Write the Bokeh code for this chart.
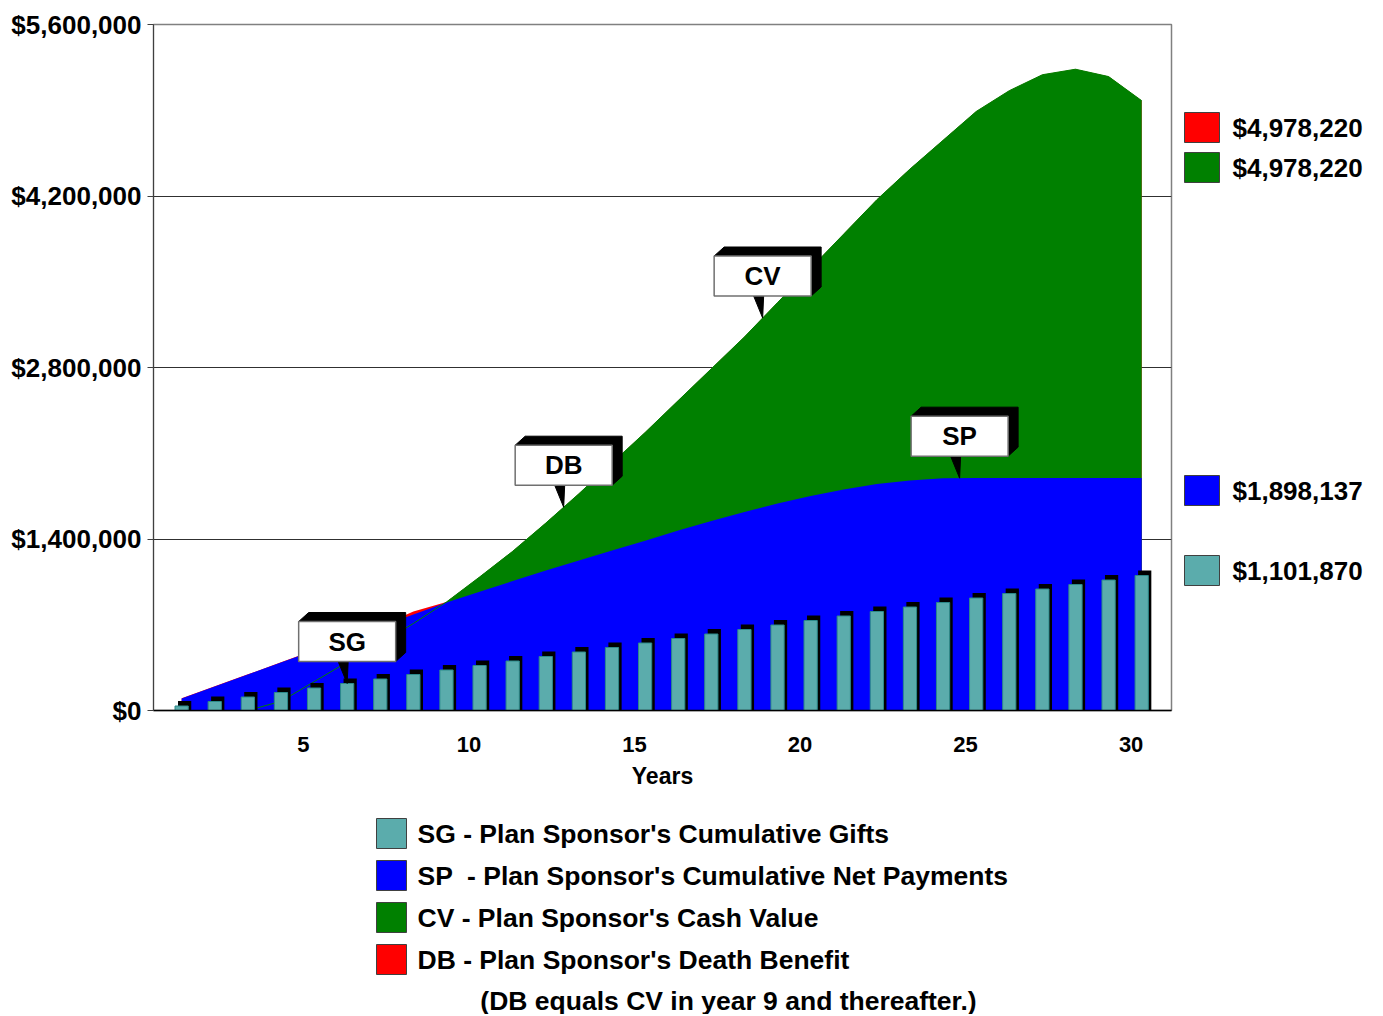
import numpy as np
from bokeh.plotting import figure
from bokeh.layouts import column, row
from bokeh.models import Range1d, FixedTicker, NumeralTickFormatter
from bokeh.core.properties import value
from bokeh.embed import file_html
from bokeh.resources import INLINE

# ---------------- data ----------------
years = list(range(1, 31))
sg = [36729, 73458, 110187, 146916, 183645, 220374, 257103, 293832, 330561, 367290,
      404019, 440748, 477477, 514206, 550935, 587664, 624393, 661122, 697851, 734580,
      771309, 808038, 844767, 881496, 918225, 954954, 991683, 1028412, 1065141, 1101870]
sp = [98000, 196000, 294000, 392000, 490000, 588000, 686000, 784000, 882000, 970000,
      1057000, 1142000, 1225000, 1306000, 1385000, 1470000, 1547000, 1620000, 1690000, 1752000,
      1805000, 1848000, 1878000, 1895000, 1898137, 1898137, 1898137, 1898137, 1898137, 1898137]
cv = [0, 0, 0, 75000, 235000, 395000, 550000, 710000, 886000, 1090000,
      1300000, 1530000, 1770000, 2020000, 2270000, 2530000, 2790000, 3050000, 3330000, 3610000,
      3890000, 4170000, 4420000, 4655000, 4890000, 5060000, 5190000, 5235000, 5175000, 4978220]
db = [99000, 197000, 295000, 393000, 491500, 590000, 689000, 808000, 886000, 1090000,
      1300000, 1530000, 1770000, 2020000, 2270000, 2530000, 2790000, 3050000, 3330000, 3610000,
      3890000, 4170000, 4420000, 4655000, 4890000, 5060000, 5190000, 5235000, 5175000, 4978220]

y_ticks = [0, 1400000, 2800000, 4200000, 5600000]
x_tick_labels = [5, 10, 15, 20, 25, 30]

legend_labels = ["SG - Plan Sponsor's Cumulative Gifts",
                 "SP \u00a0- Plan Sponsor's Cumulative Net Payments",
                 "CV - Plan Sponsor's Cash Value",
                 "DB - Plan Sponsor's Death Benefit"]
note_text = "(DB equals CV in year 9 and thereafter.)"

callout_names = ["SG", "DB", "CV", "SP"]
callout_years = [6, 12.54, 18.55, 24.5]
callout_series = [sg, db, cv, sp]

# ---------------- styles ----------------
RED, GREEN, BLUE, TEAL = "#FF0000", "#008000", "#0000FF", "#5BACAC"
TEAL_LINE = "#2C8A8A"
FONT = "Liberation Sans"

XR = (0.15, 30.9)
YR = (0, 5600000)
FW, FH = 1018, 686
BL, BT, BB = 153, 24, 90
dxp = (XR[1] - XR[0]) / FW
dyp = (YR[1] - YR[0]) / FH

# ---------------- main plot ----------------
p = figure(frame_width=FW, frame_height=FH, x_range=Range1d(*XR), y_range=Range1d(*YR),
           output_backend="svg", toolbar_location=None,
           min_border_left=BL, min_border_right=2, min_border_top=BT, min_border_bottom=BB)
p.outline_line_color = "#808080"
p.outline_line_width = 1.5
p.background_fill_color = "white"
p.border_fill_color = "white"
p.xgrid.visible = False
p.ygrid.ticker = FixedTicker(ticks=y_ticks)
p.ygrid.grid_line_color = "#303030"
p.ygrid.grid_line_width = 1

p.varea(x=years, y1=0, y2=db, fill_color=RED)
p.varea(x=years, y1=0, y2=cv, fill_color=GREEN)
p.varea(x=years, y1=0, y2=sp, fill_color=BLUE)
p.line(x=years, y=cv, line_color=GREEN, line_width=1)

bar_w = 0.40
p.vbar(x=[y + 3 * dxp for y in years], top=[v + 5 * dyp for v in sg], bottom=0,
       width=bar_w, fill_color="black", line_color=None)
p.vbar(x=years, top=sg, bottom=0, width=bar_w, fill_color=TEAL, line_color=TEAL_LINE, line_width=1)

# callouts
sh_xs, sh_ys, pt_xs, pt_ys = [], [], [], []
bl, br, bb, bt, tx, ty = [], [], [], [], [], []
for name, yr, ser in zip(callout_names, callout_years, callout_series):
    tip = float(np.interp(yr, years, ser))
    L, R = yr - 48.5 * dxp, yr + 48.5 * dxp
    B, T = tip + 22 * dyp, tip + 62 * dyp
    sh_xs.append([L, L + 10 * dxp, R + 10 * dxp, R + 10 * dxp, R, R])
    sh_ys.append([T, T + 9 * dyp, T + 9 * dyp, B + 9 * dyp, B, T])
    pt_xs.append([yr - 9 * dxp, yr + 1 * dxp, yr])
    pt_ys.append([B, B, tip])
    bl.append(L); br.append(R); bb.append(B); bt.append(T)
    tx.append(yr); ty.append((B + T) / 2)

p.patches(xs=sh_xs, ys=sh_ys, fill_color="black", line_color="black")
p.patches(xs=pt_xs, ys=pt_ys, fill_color="black", line_color="black")
p.quad(left=bl, right=br, bottom=bb, top=bt, fill_color="white", line_color="#707070", line_width=1.5)
p.text(x=tx, y=ty, text=callout_names, text_align="center", text_baseline="middle",
       text_font=value(FONT), text_font_style="bold", text_font_size="26px", text_color="black")

# axes
ya = p.yaxis[0]
ya.ticker = FixedTicker(ticks=y_ticks)
ya.formatter = NumeralTickFormatter(format="$0,0")
ya.major_label_text_font = FONT
ya.major_label_text_font_style = "bold"
ya.major_label_text_font_size = "26px"
ya.major_label_text_color = "black"
ya.major_tick_out = 6
ya.major_tick_in = 0
ya.minor_tick_line_color = None
ya.axis_line_color = "#404040"
ya.major_tick_line_color = "#404040"
ya.major_label_standoff = 6

xt = [t - 0.32 for t in x_tick_labels]
xa = p.xaxis[0]
xa.ticker = FixedTicker(ticks=xt)
xa.major_label_overrides = {k: str(t) for k, t in zip(xt, x_tick_labels)}
xa.major_label_text_font = FONT
xa.major_label_text_font_style = "bold"
xa.major_label_text_font_size = "22px"
xa.major_label_text_color = "black"
xa.major_tick_out = 0
xa.major_tick_in = 0
xa.minor_tick_line_color = None
xa.major_tick_line_color = None
xa.axis_line_color = "black"
xa.axis_line_width = 1.5
xa.major_label_standoff = 26
xa.axis_label = "Years"
xa.axis_label_text_font = FONT
xa.axis_label_text_font_style = "bold"
xa.axis_label_text_font_size = "23px"
xa.axis_label_text_color = "black"
xa.axis_label_standoff = 8

# ---------------- right value labels (page pixel coordinates) ----------------
right_vals = [db[-1], cv[-1], sp[-1], sg[-1]]
right_text = ["${:,.0f}".format(v) for v in right_vals]
right_colors = [RED, GREEN, BLUE, TEAL]
right_y = [127, 167, 490, 570]

r = figure(frame_width=210, frame_height=FH,
           x_range=Range1d(1173, 1383), y_range=Range1d(BT + FH, BT),
           output_backend="svg", toolbar_location=None,
           min_border_left=0, min_border_right=0, min_border_top=BT, min_border_bottom=BB,
           x_axis_location=None, y_axis_location=None)
r.outline_line_color = None
r.grid.visible = False
r.rect(x=1201.5, y=right_y, width=35, height=30, fill_color=right_colors, line_color="#404040", line_width=1)
r.text(x=1232, y=right_y, text=right_text, text_align="left", text_baseline="middle",
       text_font=value(FONT), text_font_style="bold", text_font_size="26px", text_color="black")

# ---------------- bottom legend (page pixel coordinates) ----------------
leg_colors = [TEAL, BLUE, GREEN, RED]
leg_y = [833, 875, 917, 959]
b = figure(width=1383, height=214, x_range=Range1d(0, 1383), y_range=Range1d(1014, 800),
           output_backend="svg", toolbar_location=None, min_border=0,
           x_axis_location=None, y_axis_location=None)
b.outline_line_color = None
b.grid.visible = False
b.rect(x=391, y=leg_y, width=30, height=30, fill_color=leg_colors, line_color="#404040", line_width=1)
b.text(x=417, y=leg_y, text=legend_labels, text_align="left", text_baseline="middle",
       text_font=value(FONT), text_font_style="bold", text_font_size="26.5px", text_color="black")
b.text(x=[728], y=[1000], text=[note_text], text_align="center", text_baseline="middle",
       text_font=value(FONT), text_font_style="bold", text_font_size="26.5px", text_color="black")

layout = column(row(p, r), b)
open("out.html", "w").write(file_html(layout, INLINE))
